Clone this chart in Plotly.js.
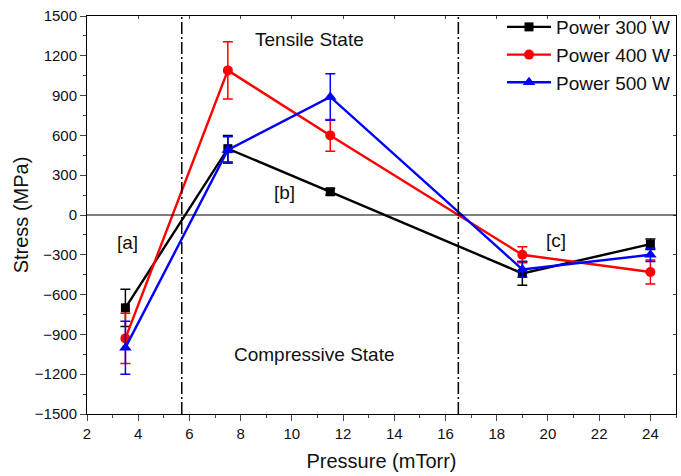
<!DOCTYPE html>
<html><head><meta charset="utf-8">
<script src="https://cdn.plot.ly/plotly-3.0.1.min.js"></script>
<style>body{margin:0;padding:0;background:#fff}#c{width:681px;height:476px}</style>
</head><body><div id="c"></div>
<script>
const pressure = [3.5, 7.5, 11.5, 19, 24];
const p300 = [-700, 500, 175, -440, -220];
const p300err = [140, 100, 25, 90, 40];
const p400 = [-930, 1090, 600, -300, -430];
const p400err = [190, 215, 120, 60, 90];
const p500 = [-1000, 490, 890, -410, -300];
const p500err = [200, 100, 175, 60, 50];
const seriesNames = ['Power 300 W', 'Power 400 W', 'Power 500 W'];
const boundaries = [5.7, 16.5];
const xTicks = [2,4,6,8,10,12,14,16,18,20,22,24];
const yTicks = [-1500,-1200,-900,-600,-300,0,300,600,900,1200,1500];

function tr(y, e, name, color, symbol, size) {
  return {x: pressure, y: y, name: name, type: 'scatter', mode: 'lines+markers',
    line: {color: color, width: 2.4}, marker: {color: color, symbol: symbol, size: size},
    error_y: {type: 'data', array: e, visible: true, color: color, thickness: 1.5, width: 5}};
}
const data = [
  tr(p300, p300err, seriesNames[0], '#000000', 'square', 9),
  tr(p400, p400err, seriesNames[1], '#ff0000', 'circle', 10),
  tr(p500, p500err, seriesNames[2], '#0000ff', 'triangle-up', 11),
  {x: [null], y: [null], xaxis: 'x2', yaxis: 'y2', showlegend: false, hoverinfo: 'skip', type: 'scatter', mode: 'markers'}
];
const shapes = boundaries.map(b => ({type: 'line', xref: 'x', yref: 'paper', x0: b, x1: b, y0: 0, y1: 1,
  line: {color: '#000', width: 1.5, dash: '12px,3px,2px,3px'}}));
shapes.push({type: 'line', xref: 'paper', yref: 'y', x0: 0, x1: 1, y0: 0, y1: 0, line: {color: '#000', width: 1.2}});
const ann = (t, x, y) => ({text: t, x: x, y: y, xref: 'x', yref: 'y', showarrow: false, font: {size: 19, color: '#111'}});
const layout = {
  width: 681, height: 476,
  margin: {l: 87, r: 5, t: 16, b: 62},
  paper_bgcolor: '#fff', plot_bgcolor: '#fff',
  font: {family: 'Liberation Sans, Arial, sans-serif', color: '#111'},
  showlegend: true,
  legend: {x: 1, xanchor: 'right', y: 1.02, yanchor: 'top', font: {size: 19}, bgcolor: 'rgba(255,255,255,0)', tracegroupgap: 0, itemwidth: 44},
  xaxis: {range: [2, 25], tickvals: xTicks, ticks: 'outside', ticklen: 6, tickwidth: 1,
    minor: {dtick: 1, ticks: 'outside', ticklen: 3}, showline: true, linecolor: '#000', linewidth: 1, mirror: true,
    showgrid: false, zeroline: false, tickfont: {size: 15},
    title: {text: 'Pressure (mTorr)', font: {size: 20}, standoff: 12}},
  yaxis: {range: [-1500, 1500], tickvals: yTicks, ticks: 'outside', ticklen: 6, tickwidth: 1,
    minor: {dtick: 150, ticks: 'outside', ticklen: 3}, showline: true, linecolor: '#000', linewidth: 1, mirror: true,
    showgrid: false, zeroline: false, tickfont: {size: 15},
    title: {text: 'Stress (MPa)', font: {size: 20}, standoff: 0}},
  xaxis2: {overlaying: 'x', side: 'top', range: [2, 25], tickvals: xTicks, ticks: 'inside', ticklen: 3,
    showticklabels: false, showgrid: false, zeroline: false, showline: false},
  yaxis2: {overlaying: 'y', side: 'right', range: [-1500, 1500], tickvals: yTicks, ticks: 'inside', ticklen: 3,
    showticklabels: false, showgrid: false, zeroline: false, showline: false},
  shapes: shapes,
  annotations: [
    ann('Tensile State', 10.7, 1320), ann('Compressive State', 10.9, -1055),
    ann('[a]', 3.6, -210), ann('[b]', 9.7, 173), ann('[c]', 20.3, -190)
  ]
};
Plotly.newPlot('c', data, layout, {displayModeBar: false});
</script></body></html>
